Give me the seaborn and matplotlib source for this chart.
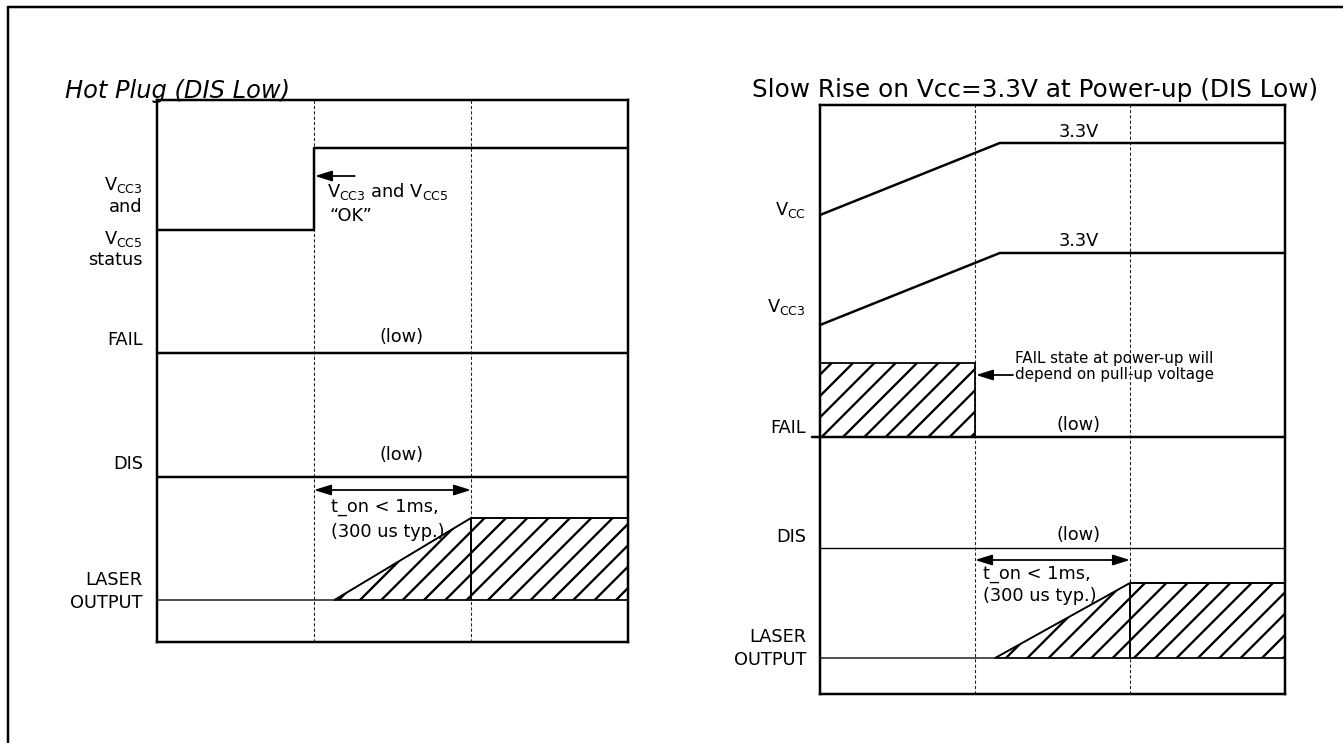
import numpy as np
import pandas as pd
import matplotlib.pyplot as plt
import seaborn as sns
from matplotlib.lines import Line2D

# plain white background, no grid: this is a timing diagram, not a data plot
sns.set_style("white")
plt.rcParams["font.family"] = ["DejaVu Sans"]
plt.rcParams["mathtext.fontset"] = "dejavusans"
plt.rcParams["hatch.linewidth"] = 1.3
plt.rcParams["text.color"] = "black"

W, H, DPI = 1343, 743, 128

# --- signal data -------------------------------------------------------------
# time runs 0..3 in units of the dashed grid lines, levels: 0 = low, 1 = high
grid_t = [1, 2]

# Hot Plug (DIS Low)
hp_status_t = [0, 1, 1, 3]
hp_status_lvl = [0, 0, 1, 1]
hp_fail_t = [0, 3]
hp_fail_lvl = [0, 0]
hp_dis_t = [0, 3]
hp_dis_lvl = [0, 0]
hp_laser_t = [0, 1.13, 2, 3]
hp_laser_lvl = [0, 0, 1, 1]
hp_ton = [1, 2]

# Slow rise on Vcc at power-up (DIS Low)
sr_vcc_t = [0, 1.16, 3]
sr_vcc_lvl = [0, 1, 1]
sr_vcc3_t = [0, 1.16, 3]
sr_vcc3_lvl = [0, 1, 1]
sr_fail_t = [-0.05, 3]
sr_fail_lvl = [0, 0]
sr_fail_unknown_t = [0, 1]      # hatched, depends on pull-up voltage
sr_fail_unknown_lvl = [1, 1]
sr_dis_t = [0, 3]
sr_dis_lvl = [0, 0]
sr_laser_t = [0, 1.13, 2, 3]
sr_laser_lvl = [0, 0, 1, 1]
sr_ton = [1, 2]

vcc_final = "3.3V"

# --- layout (pixel rows of the figure) ---------------------------------------
# box = (left px, right px, top px, bottom px)
hp_box = (157, 628, 100, 642)
sr_box = (820, 1285, 105, 694)
# lane = (baseline row, swing in px)
hp_lanes = {"status": (230, 82), "fail": (353, 0), "dis": (477, 0), "laser": (600, 82)}
sr_lanes = {"vcc": (215, 72), "vcc3": (325, 72), "fail": (437, 74),
            "dis": (548, 0), "laser": (658, 75)}

LABEL_X = -0.09
FS = 10
THICK = 1.4
THIN = 0.75


def make_panel(box):
    x0, x1, top, bottom = box
    ax = fig.add_axes([x0 / W, 1 - bottom / H, (x1 - x0) / W, (bottom - top) / H])
    ax.set_xlim(0, 3)
    ax.set_ylim(bottom, top)
    ax.set_xticks([])
    ax.set_yticks([])
    for s in ax.spines.values():
        s.set_linewidth(1.4)
        s.set_color("black")
    for t in grid_t:
        ax.axvline(t, color="#222222", lw=0.6, ls=(0, (3, 2)), zorder=1)
    return ax


def wave(ax, t, lvl, lane, lw):
    base, swing = lane
    df = pd.DataFrame({"t": t, "y": base - swing * np.asarray(lvl, dtype=float)})
    sns.lineplot(data=df, x="t", y="y", ax=ax, sort=False, estimator=None,
                 color="black", lw=lw, zorder=3)
    ax.set_xlabel("")
    ax.set_ylabel("")


def hatch(ax, t, lvl, lane, lw=1.0):
    base, swing = lane
    y2 = base - swing * np.asarray(lvl, dtype=float)
    ax.fill_between(t, base, y2, facecolor="none", edgecolor="black",
                    hatch="//", lw=lw, zorder=2)


def span_arrow(ax, ts, y):
    ax.annotate("", xy=(ts[1], y), xytext=(ts[0], y),
                arrowprops=dict(arrowstyle="<|-|>,head_length=0.8,head_width=0.25",
                                color="black", lw=1.0, shrinkA=0, shrinkB=0,
                                mutation_scale=10))


def label(ax, y, s):
    ax.text(LABEL_X, y, s, ha="right", va="center", fontsize=FS, clip_on=False)


fig = plt.figure(figsize=(W / DPI, H / DPI), dpi=DPI)

# ============ left panel: Hot Plug ============
ax = make_panel(hp_box)
wave(ax, hp_status_t, hp_status_lvl, hp_lanes["status"], THICK)
wave(ax, hp_fail_t, hp_fail_lvl, hp_lanes["fail"], THICK)
wave(ax, hp_dis_t, hp_dis_lvl, hp_lanes["dis"], THICK)
hatch(ax, hp_laser_t[1:], hp_laser_lvl[1:], hp_lanes["laser"])
wave(ax, hp_laser_t, hp_laser_lvl, hp_lanes["laser"], THIN)
lb, ls = hp_lanes["laser"]
ax.vlines(hp_ton[1], lb - ls, lb, color="black", lw=1.1, zorder=3)
span_arrow(ax, hp_ton, 490)

label(ax, 185, r"V$_\mathregular{CC3}$")
label(ax, 207, "and")
label(ax, 239, r"V$_\mathregular{CC5}$")
label(ax, 260, "status")
label(ax, 340, "FAIL")
label(ax, 464, "DIS")
label(ax, 580, "LASER")
label(ax, 603, "OUTPUT")

ax.annotate("", xy=(1.006, 176), xytext=(1.26, 176),
            arrowprops=dict(arrowstyle="-|>,head_length=0.8,head_width=0.25",
                            color="black", lw=1.0, shrinkA=0, shrinkB=0,
                            mutation_scale=10))
ax.text(1.08, 192, r"V$_\mathregular{CC3}$ and V$_\mathregular{CC5}$",
        ha="left", va="center", fontsize=FS)
ax.text(1.1, 216, "\u201cOK\u201d", ha="left", va="center", fontsize=FS)
ax.text(1.56, 337, "(low)", ha="center", va="center", fontsize=FS)
ax.text(1.56, 455, "(low)", ha="center", va="center", fontsize=FS)
ax.text(1.11, 507, "t_on < 1ms,", ha="left", va="center", fontsize=FS)
ax.text(1.11, 532, "(300 us typ.)", ha="left", va="center", fontsize=FS)

# ============ right panel: Slow rise ============
ax = make_panel(sr_box)
wave(ax, sr_vcc_t, sr_vcc_lvl, sr_lanes["vcc"], THICK)
wave(ax, sr_vcc3_t, sr_vcc3_lvl, sr_lanes["vcc3"], THICK)
hatch(ax, sr_fail_unknown_t, sr_fail_unknown_lvl, sr_lanes["fail"])
wave(ax, sr_fail_t, sr_fail_lvl, sr_lanes["fail"], THICK)
wave(ax, sr_dis_t, sr_dis_lvl, sr_lanes["dis"], THIN)
hatch(ax, sr_laser_t[1:], sr_laser_lvl[1:], sr_lanes["laser"])
wave(ax, sr_laser_t, sr_laser_lvl, sr_lanes["laser"], THIN)
lb, ls = sr_lanes["laser"]
ax.vlines(sr_ton[1], lb - ls, lb, color="black", lw=1.1, zorder=3)
span_arrow(ax, sr_ton, 560)
for c in ax.get_lines():
    c.set_clip_on(False)

label(ax, 210, r"V$_\mathregular{CC}$")
label(ax, 307, r"V$_\mathregular{CC3}$")
label(ax, 428, "FAIL")
label(ax, 537, "DIS")
label(ax, 637, "LASER")
label(ax, 660, "OUTPUT")

ax.text(1.67, 132, vcc_final, ha="center", va="center", fontsize=FS)
ax.text(1.67, 241, vcc_final, ha="center", va="center", fontsize=FS)
ax.annotate("", xy=(1.006, 375), xytext=(1.245, 375),
            arrowprops=dict(arrowstyle="-|>,head_length=0.8,head_width=0.25",
                            color="black", lw=1.0, shrinkA=0, shrinkB=0,
                            mutation_scale=10))
ax.text(1.26, 358, "FAIL state at power-up will", ha="left", va="center", fontsize=8.5)
ax.text(1.26, 375, "depend on pull-up voltage", ha="left", va="center", fontsize=8.5)
ax.text(1.67, 425, "(low)", ha="center", va="center", fontsize=FS)
ax.text(1.67, 535, "(low)", ha="center", va="center", fontsize=FS)
ax.text(1.05, 574, "t_on < 1ms,", ha="left", va="center", fontsize=FS)
ax.text(1.05, 596, "(300 us typ.)", ha="left", va="center", fontsize=FS)

# titles
fig.text(65 / W, 1 - 91 / H, "Hot Plug (DIS Low)", style="italic",
         fontsize=13.6, ha="left", va="center")
fig.text(752 / W, 1 - 90 / H, "Slow Rise on Vcc=3.3V at Power-up (DIS Low)",
         fontsize=13.9, ha="left", va="center")

# outer frame (left and top edges)
fig.add_artist(Line2D([8 / W, 8 / W], [0, 1 - 7 / H], transform=fig.transFigure,
                      color="black", lw=1.4))
fig.add_artist(Line2D([8 / W, 1], [1 - 7 / H, 1 - 7 / H], transform=fig.transFigure,
                      color="black", lw=1.4))

fig.savefig("out.png", dpi=DPI)
